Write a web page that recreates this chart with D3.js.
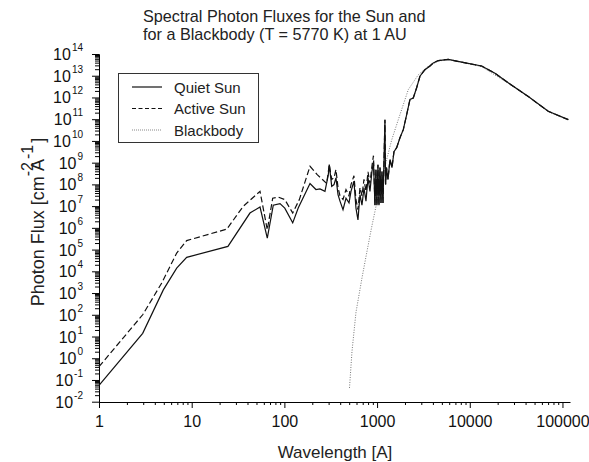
<!DOCTYPE html>
<html>
<head>
<meta charset="utf-8">
<script src="https://cdn.jsdelivr.net/npm/d3@7"></script>
<style>
  html, body { margin: 0; padding: 0; background: #fff; }
  svg { display: block; font-family: "Liberation Sans", Arial, sans-serif; }
</style>
</head>
<body>
<svg id="chart" width="589" height="462"></svg>
<script>
// ---- Data ----
const quietWavelength = [1, 2.96, 4.94, 6.89, 8.83, 24.6, 42.5, 54.6, 65.4, 75.9, 89.7, 101, 123, 141, 189, 219, 242, 274, 298, 305, 324,
  343, 360, 379, 398, 429, 462, 498, 523, 563, 592, 622, 654, 687, 722, 759, 798, 838, 881, 914,
  949, 972, 997, 1022, 1048, 1075, 1102, 1130, 1158, 1216, 1235, 1263, 1312, 1378, 1448, 1522, 1627, 1766,
  1918, 2084, 2264, 2457, 2673, 2901, 3286, 3722, 4040, 4575, 5866, 8180, 13440, 18700, 26000, 42800, 70300, 115600];
const quietFlux = [5.6e-2, 14, 1.4e3, 1.4e4, 4.4e4, 1.4e5, 4.8e6, 9.1e6, 3.4e5, 1.1e7, 1.3e7, 8.1e6, 1.7e6, 8.1e6, 1.1e8, 5.8e7, 6.2e7, 4.8e7, 2.8e8, 8.1e8, 8.1e7,
  9.8e7, 2.0e8, 3.4e7, 1.7e7, 6.8e6, 2.3e7, 1.4e7, 4.8e7, 1.4e8, 8.1e6, 2.3e6, 3.4e7, 1.1e7, 6.8e7, 1.7e7, 2.0e8, 4.8e7, 4.0e8, 1.1e9,
  1.1e7, 4.8e8, 1.1e7, 8.1e8, 1.1e7, 5.9e8, 1.4e7, 3.9e8, 1.4e7, 9.5e10, 9.8e7, 5.9e8, 1.7e8, 1.4e9, 5.9e8, 3.2e9, 4.9e9, 1.4e10,
  3.3e10, 1.6e11, 8.1e11, 9.5e11, 2.8e12, 9.5e12, 1.9e13, 2.8e13, 3.9e13, 5.0e13, 5.6e13, 4.2e13, 2.8e13, 1.3e13, 4.7e12, 1.1e12, 2.3e11, 9.5e10];

const activeWavelength = [1, 2.96, 4.75, 6.89, 8.83, 23.9, 36, 54.6, 65.4, 74.8, 86, 101, 123, 145, 189, 226, 286, 305, 324,
  343, 360, 379, 398, 429, 462, 498, 523, 563, 592, 622, 654, 687, 722, 759, 798, 838, 881, 914,
  949, 972, 997, 1022, 1048, 1075, 1102, 1130, 1158, 1216, 1235, 1263, 1312, 1378, 1448, 1522, 1627, 1766,
  1918, 2084, 2264, 2457, 2673, 2901, 3286, 3722, 4040, 4575, 5866, 8180, 13440, 18700, 26000, 42800, 70300, 115600];
const activeFlux = [0.41, 100, 2.9e3, 6.9e4, 2.6e5, 8.7e5, 9.8e6, 4.8e7, 8.1e5, 2.3e7, 2.6e7, 2.0e7, 4.8e6, 2.0e7, 6.8e8, 2.8e8, 1.1e8, 8.1e8, 1.7e8,
  2.0e8, 4.8e8, 7.1e7, 3.0e7, 2.0e7, 5.8e7, 3.0e7, 9.8e7, 2.5e8, 2.0e7, 6.8e6, 7.1e7, 3.0e7, 1.7e8, 4.7e7, 3.8e8, 1.1e8, 7.2e8, 2.1e9,
  1.1e7, 4.8e8, 1.1e7, 8.1e8, 1.1e7, 5.9e8, 1.4e7, 3.9e8, 1.4e7, 9.5e10, 9.8e7, 5.9e8, 1.7e8, 1.4e9, 5.9e8, 3.2e9, 4.9e9, 1.4e10,
  3.3e10, 1.6e11, 8.1e11, 9.5e11, 2.8e12, 9.5e12, 1.9e13, 2.8e13, 3.9e13, 5.0e13, 5.6e13, 4.2e13, 2.8e13, 1.3e13, 4.7e12, 1.1e12, 2.3e11, 9.5e10];

const bbWavelength = [504, 536, 592, 692, 772, 875, 991, 1122, 1270, 1437, 1694, 2172, 2782, 3566, 4575, 5866, 8180, 13440, 26000, 42800, 70300, 115600];
const bbFlux = [4.3e-2, 2.0, 1.3e2, 5.8e3, 6.9e4, 1.1e6, 1.4e7, 1.7e8, 1.4e9, 1.1e10, 9.5e10, 2.3e12, 1.1e13, 2.8e13, 4.7e13, 5.6e13, 4.2e13, 2.6e13, 4.5e12, 1.1e12, 2.2e11, 9.3e10];

const xMajorTicks = [1, 10, 100, 1000, 10000, 100000];
const xTickLabels = ["1", "10", "100", "1000", "10000", "100000"];
const yExponents = [-2, -1, 0, 1, 2, 3, 4, 5, 6, 7, 8, 9, 10, 11, 12, 13, 14];

const titleLines = ["Spectral Photon Fluxes for the Sun and", "for a Blackbody (T = 5770 K) at 1 AU"];
const legendLabels = ["Quiet Sun", "Active Sun", "Blackbody"];

// ---- Layout ----
const svg = d3.select("#chart");
const x = d3.scaleLog().domain([1, 120000]).range([99, 569.8]);
const y = d3.scaleLog().domain([1e-2, 1e14]).range([401.7, 54]);

// minor ticks
const xMinor = [];
for (let d = 1; d <= 100000; d *= 10) for (let k = 2; k <= 9; k++) if (d * k <= 120000) xMinor.push(d * k);
const yMinor = [];
yExponents.slice(0, -1).forEach(e => { for (let k = 2; k <= 9; k++) yMinor.push(k * Math.pow(10, e)); });

// X axis
const gx = svg.append("g").attr("transform", "translate(0,402)");
gx.call(d3.axisBottom(x).tickValues(xMinor).tickSize(3).tickFormat("").tickSizeOuter(0));
gx.append("g").call(d3.axisBottom(x).tickValues(xMajorTicks).tickSize(6).tickSizeOuter(0)
  .tickFormat((d, i) => xTickLabels[i]));
gx.selectAll("path.domain").attr("stroke", "#000");
gx.selectAll("line").attr("stroke", "#000");
gx.selectAll("text").attr("font-size", 16).attr("fill", "#111").attr("dy", "1.0em")
  .attr("font-family", "Liberation Sans, Arial, sans-serif");

// Y axis
const gy = svg.append("g").attr("transform", "translate(99,0)");
gy.call(d3.axisLeft(y).tickValues(yMinor).tickSize(4).tickFormat("").tickSizeOuter(0));
gy.append("g").call(d3.axisLeft(y).tickValues(yExponents.map(e => Math.pow(10, e)))
  .tickSize(7).tickSizeOuter(0).tickFormat(""));
gy.selectAll("path.domain").attr("stroke", "#000");
gy.selectAll("line").attr("stroke", "#000");

// y tick labels with superscripts
const yl = svg.append("g").attr("fill", "#111");
yExponents.forEach(e => {
  const t = yl.append("text").attr("x", 83).attr("y", y(Math.pow(10, e)) + 6)
    .attr("text-anchor", "end").attr("font-size", 16);
  t.append("tspan").text("10");
  t.append("tspan").attr("font-size", 10).attr("dy", -9).attr("dx", 1).text(String(e));
});

// Lines
const line = (xs, ys) => d3.line().x((d, i) => x(xs[i])).y((d, i) => y(ys[i]))(xs);
svg.append("path").attr("d", line(bbWavelength, bbFlux)).attr("fill", "none")
  .attr("stroke", "#777").attr("stroke-width", 1).attr("stroke-dasharray", "1,1.5");
svg.append("path").attr("d", line(activeWavelength, activeFlux)).attr("fill", "none")
  .attr("stroke", "#111").attr("stroke-width", 1.2).attr("stroke-dasharray", "6,3");
svg.append("path").attr("d", line(quietWavelength, quietFlux)).attr("fill", "none")
  .attr("stroke", "#111").attr("stroke-width", 1.2);

// Title
titleLines.forEach((s, i) => {
  svg.append("text").attr("x", 143).attr("y", 22 + i * 18).attr("font-size", 16.2).attr("fill", "#222").text(s);
});

// Axis titles
svg.append("text").attr("x", 335).attr("y", 458).attr("text-anchor", "middle").attr("font-size", 17)
  .attr("fill", "#222").text("Wavelength [A]");

const yt = svg.append("text").attr("transform", "translate(44,222) rotate(-90)")
  .attr("text-anchor", "middle").attr("font-size", 18).attr("fill", "#222");
yt.append("tspan").text("Photon Flux [cm");
yt.append("tspan").attr("font-size", 16).attr("dy", -11).text("-2");
yt.append("tspan").attr("dy", 11).attr("dx", -9).text("A");
yt.append("tspan").attr("font-size", 16).attr("dy", -11).text("-1");
yt.append("tspan").attr("dy", 11).attr("dx", 2).text("]");

// Legend
const lg = svg.append("g");
lg.append("rect").attr("x", 118.5).attr("y", 73.5).attr("width", 140).attr("height", 69)
  .attr("fill", "#fff").attr("stroke", "#333").attr("stroke-width", 1);
const styles = [
  { stroke: "#111", dash: null, w: 1.2 },
  { stroke: "#111", dash: "4,2.5", w: 1.2 },
  { stroke: "#888", dash: "1,1", w: 1 }
];
legendLabels.forEach((lab, i) => {
  const cy = 87 + i * 21.5;
  const l = lg.append("line").attr("x1", 132).attr("x2", 162).attr("y1", cy).attr("y2", cy)
    .attr("stroke", styles[i].stroke).attr("stroke-width", styles[i].w);
  if (styles[i].dash) l.attr("stroke-dasharray", styles[i].dash);
  lg.append("text").attr("x", 174).attr("y", cy + 5.5).attr("font-size", 15).attr("fill", "#222").text(lab);
});
</script>
</body>
</html>
